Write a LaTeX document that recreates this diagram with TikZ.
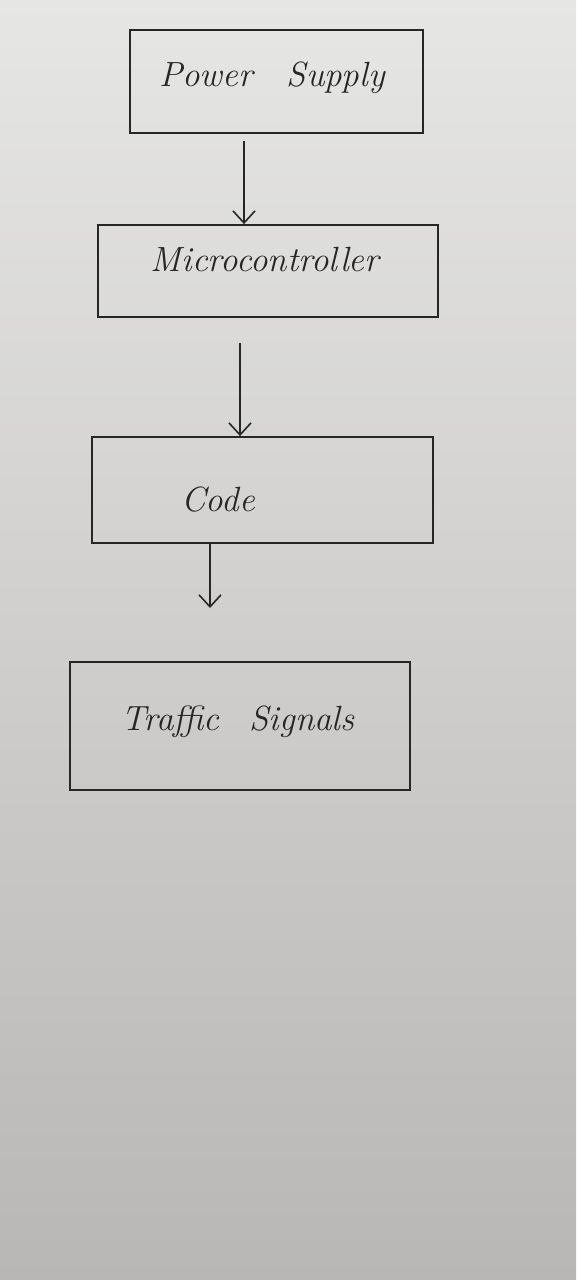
\documentclass[tikz,border=0pt]{standalone}
\usetikzlibrary{arrows.meta}
\definecolor{paperTop}{HTML}{E6E6E4}
\definecolor{paperBot}{HTML}{B9B7B5}
\definecolor{ink}{HTML}{262626}
\begin{document}
\begin{tikzpicture}[x=1pt,y=-1pt,
  box/.style={draw=ink,line width=1.8pt,minimum width=#1,inner sep=0pt,font=\fontsize{35}{40}\selectfont\itshape,text=ink},
  flow/.style={draw=ink,line width=1.6pt,-{Straight Barb[length=12pt,width=22pt]}},
  lbl/.style={font=\fontsize{35}{40}\selectfont\itshape,text=ink}]
\shade[top color=paperTop,bottom color=paperBot] (0,0) rectangle (576,1280);
\useasboundingbox (0,0) rectangle (576,1280);
\node[box=293pt,minimum height=103pt] (ps) at (276.5,81.5) {};
\node[lbl] (pst) at (272,78) {Power\hspace{34pt}Supply};
\node[box=340pt,minimum height=92pt] (mc) at (268,271) {};
\node[lbl] (mct) at (265,260) {Microcontroller};
\node[box=341pt,minimum height=106pt] (cd) at (262.5,490) {};
\node[lbl] (cdt) at (218,500) {Code};
\node[box=340pt,minimum height=128pt] (ts) at (240,726) {};
\node[lbl] (tst) at (238,722) {Traffic\hspace{30pt}Signals};
\coordinate (a1s) at (244,141);
\coordinate (a1e) at (244,219);
\coordinate (a2s) at (240,343);
\coordinate (a2e) at (240,434);
\coordinate (a3s) at (210,549);
\coordinate (a3e) at (210,608);
\draw[flow] (a1s) -- (mc.north -| a1e);
\draw[flow] (a2s) -- (cd.north -| a2e);
\draw[flow] (cd.south -| a3s) -- (a3e);
\end{tikzpicture}
\end{document}
